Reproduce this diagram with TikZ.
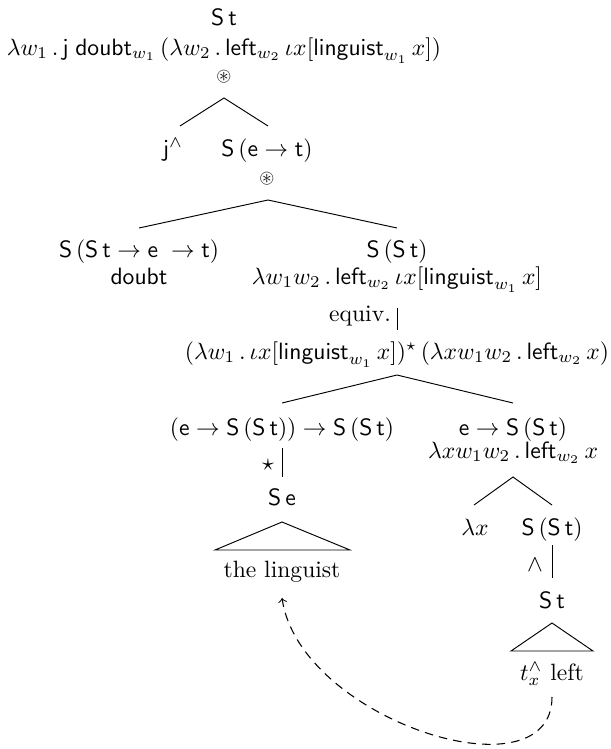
\documentclass[tikz,border=0pt]{standalone}
\usepackage{amsmath,amssymb,graphicx}
\begin{document}
\begin{tikzpicture}[x=0.4237pt,y=-0.4237pt,
  lab/.style={anchor=base,inner sep=0pt},
  branch/.style={line width=0.4pt},
  movearrow/.style={line width=0.45pt,dash pattern=on 3.6pt off 2.6pt,->}]
\useasboundingbox (0,0) rectangle (610,749);
% root
\node[lab] (r) at (224,26) {\textsf{S\,t}};
\node[lab] (rf) at (224,55) {$\lambda w_1\,.\,\mathsf{j}\;\mathsf{doubt}_{w_1}\,(\lambda w_2\,.\,\mathsf{left}_{w_2}\,\iota x[\mathsf{linguist}_{w_1}\,x])$};
\node[lab] (ro) at (224,81) {\scalebox{0.82}{$\circledast$}};
% level 1
\node[lab] (j) at (173,156) {$\mathsf{j}^{\wedge}$};
\node[lab] (set) at (267,156) {$\mathsf{S}\,(\mathsf{e}\rightarrow\mathsf{t})$};
\node[lab] (seto) at (267,183) {\scalebox{0.82}{$\circledast$}};
% level 2
\node[lab] (dt) at (139,257) {$\mathsf{S}\,(\mathsf{S}\,\mathsf{t}\rightarrow\mathsf{e}\;\rightarrow\mathsf{t})$};
\node[lab] (dtw) at (139,284) {\textsf{doubt}};
\node[lab] (sst) at (397,257) {$\mathsf{S}\,(\mathsf{S}\,\mathsf{t})$};
\node[lab] (sstf) at (397,284) {$\lambda w_1 w_2\,.\,\mathsf{left}_{w_2}\,\iota x[\mathsf{linguist}_{w_1}\,x]$};
\node[lab] (eqv) at (360,321) {equiv.};
\node[lab] (sst2) at (397,359) {$(\lambda w_1\,.\,\iota x[\mathsf{linguist}_{w_1}\,x])^{\star}\,(\lambda x w_1 w_2\,.\,\mathsf{left}_{w_2}\,x)$};
% level 3
\node[lab] (lft) at (282,435) {$(\mathsf{e}\rightarrow\mathsf{S}\,(\mathsf{S}\,\mathsf{t}))\rightarrow\mathsf{S}\,(\mathsf{S}\,\mathsf{t})$};
\node[lab] (strl) at (268,470) {$\star$};
\node[lab] (se) at (282,505) {$\mathsf{S}\,\mathsf{e}$};
\node[lab] (ling) at (282,577) {the linguist};
\node[lab] (rgt) at (513,435) {$\mathsf{e}\rightarrow\mathsf{S}\,(\mathsf{S}\,\mathsf{t})$};
\node[lab] (rgtf) at (513,458) {$\lambda x w_1 w_2\,.\,\mathsf{left}_{w_2}\,x$};
% level 4
\node[lab] (lx) at (475,535) {$\lambda x$};
\node[lab] (sst3) at (552,535) {$\mathsf{S}\,(\mathsf{S}\,\mathsf{t})$};
\node[lab] (wdg) at (535,571) {$\wedge$};
\node[lab] (st) at (552,608) {\textsf{S\,t}};
\node[lab] (tl) at (552,680) {$t_x^{\wedge}$ left};
% branch points
\coordinate (r-ap) at (224,98);
\coordinate (j-up) at (180,126);
\coordinate (set-up) at (268,126);
\coordinate (set-ap) at (268,200);
\coordinate (dt-up) at (139,228);
\coordinate (sst-up) at (397,228);
\coordinate (sst-dn) at (397,308);
\coordinate (sst2-up) at (397,330);
\coordinate (sst2-ap) at (397,375);
\coordinate (lft-up) at (282,403);
\coordinate (rgt-up) at (513,403);
\coordinate (lft-dn) at (282,448);
\coordinate (se-up) at (282,477);
\coordinate (se-ap) at (282,522);
\coordinate (se-bl) at (215,550);
\coordinate (se-br) at (350,550);
\coordinate (rgt-ap) at (513,477);
\coordinate (lx-up) at (474,505);
\coordinate (sst3-up) at (552,505);
\coordinate (sst3-dn) at (552,545);
\coordinate (st-up) at (552,578);
\coordinate (st-ap) at (552,623);
\coordinate (st-bl) at (511,651);
\coordinate (st-br) at (593,651);
\coordinate (tl-dn) at (552,697);
\coordinate (ling-dn) at (282,598);
% branches
\draw[branch] (j-up) -- (r-ap) -- (set-up);
\draw[branch] (dt-up) -- (set-ap) -- (sst-up);
\draw[branch] (sst-dn) -- (sst2-up);
\draw[branch] (lft-up) -- (sst2-ap) -- (rgt-up);
\draw[branch] (lft-dn) -- (se-up);
\draw[branch] (se-ap) -- (se-bl) -- (se-br) -- cycle;
\draw[branch] (lx-up) -- (rgt-ap) -- (sst3-up);
\draw[branch] (sst3-dn) -- (st-up);
\draw[branch] (st-ap) -- (st-bl) -- (st-br) -- cycle;
% movement
\draw[movearrow] (tl-dn) .. controls (552,800) and (300,720) .. (ling-dn);
\end{tikzpicture}
\end{document}
